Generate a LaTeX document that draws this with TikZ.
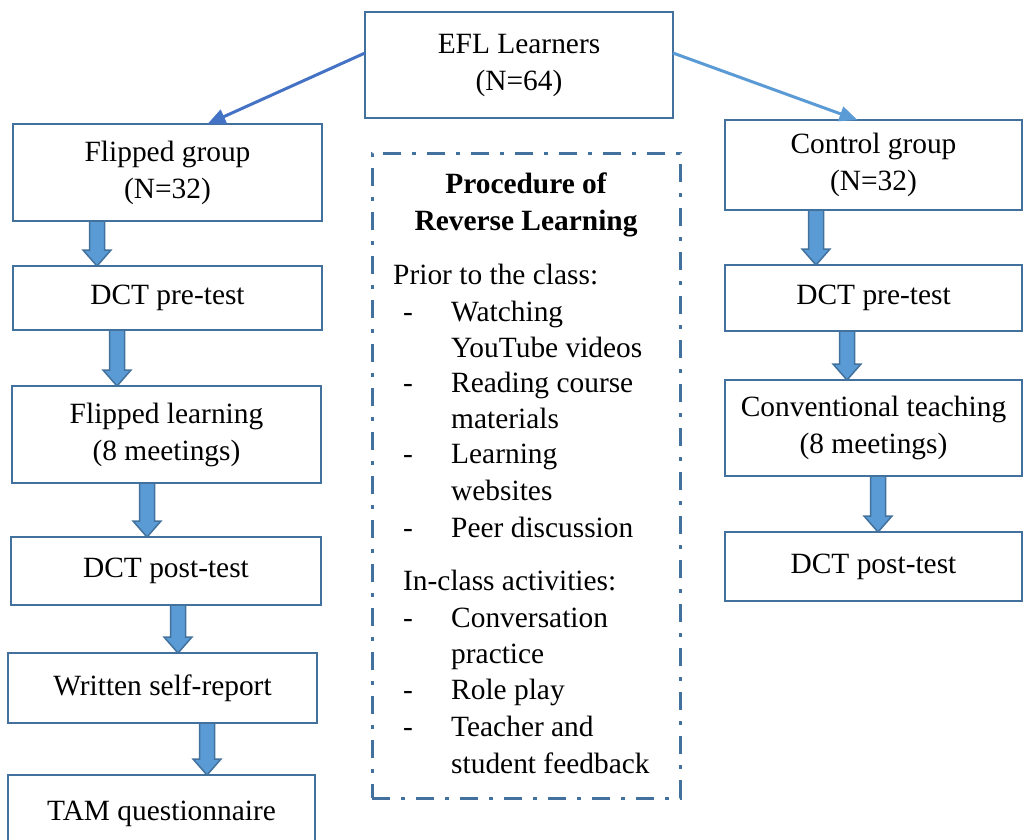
\documentclass[tikz,border=0pt]{standalone}
\usepackage{fontspec}
\setmainfont{Liberation Serif}
\newfontfamily\tnr{Liberation Serif}
\usetikzlibrary{arrows.meta,calc}

\definecolor{boxline}{HTML}{41719C}
\definecolor{flowfill}{HTML}{5B9BD5}
\definecolor{splitleft}{HTML}{4472C4}
\definecolor{splitright}{HTML}{5B9BD5}

% stage box: name, x1, y1, x2, y2, text
\newcommand\stagebox[6]{%
  \node[stage, minimum width={#4-#2}, minimum height={#5-#3}] (#1)
    at ({(#2+#4)/2},{(#3+#5)/2}) {#6};}

% block arrow pointing down: x position, upper node, lower node
\newcommand\flowarrow[3]{%
  \filldraw[flow] let \p1=(#2.south), \p2=(#3.north) in
    (#1pt-7.5pt,\y1) -- (#1pt+7.5pt,\y1) -- (#1pt+7.5pt,\y2+16pt)
    -- (#1pt+14pt,\y2+16pt) -- (#1pt,\y2) -- (#1pt-14pt,\y2+16pt)
    -- (#1pt-7.5pt,\y2+16pt) -- cycle;}

\begin{document}
\begin{tikzpicture}[x=1pt,y=-1pt,
  stage/.style={draw=boxline, line width=2pt, inner sep=0pt, outer sep=0pt,
    align=center, font=\tnr\fontsize{29.4}{37}\selectfont},
  flow/.style={fill=flowfill, draw=boxline, line width=1.5pt, line join=miter},
  txt/.style={anchor=base west, inner sep=0pt, font=\tnr\fontsize{29.4}{37}\selectfont},
  head/.style={anchor=base, inner sep=0pt, font=\tnr\fontsize{29.4}{37}\selectfont\bfseries},
  procframe/.style={draw=boxline, line width=3pt,
    dash pattern=on 18pt off 11pt on 4pt off 11pt, inner sep=0pt},
  split/.style={line width=3pt, -{Triangle[length=18pt,width=15pt]}}]

\useasboundingbox (0,0) rectangle (1024,839);

% top node
\stagebox{efl}{365}{12}{673}{118}{EFL Learners\\(N=64)}

% flipped group column
\stagebox{fg}{13}{124}{322}{221}{Flipped group\\(N=32)}
\stagebox{fpre}{13}{266}{322}{330}{DCT pre-test}
\stagebox{flearn}{12}{386}{321}{483}{Flipped learning\\(8 meetings)}
\stagebox{fpost}{11}{537}{321}{605}{DCT post-test}
\stagebox{fself}{8}{653}{317}{723}{Written self-report}
\stagebox{ftam}{8}{775}{315}{852}{TAM questionnaire}

% control group column
\stagebox{cg}{725}{120}{1022}{210}{Control group\\(N=32)}
\stagebox{cpre}{725}{265}{1022}{331}{DCT pre-test}
\stagebox{cteach}{725}{380}{1022}{476}{Conventional teaching\\(8 meetings)}
\stagebox{cpost}{725}{532}{1022}{601}{DCT post-test}

% split arrows from the top node
\draw[split, splitleft] ([yshift=12pt]efl.west) -- ([xshift=40pt]fg.north);
\draw[split, splitright] ([yshift=12pt]efl.east) -- ([xshift=-16pt]cg.north);

% block arrows
\flowarrow{97}{fg}{fpre}
\flowarrow{117}{fpre}{flearn}
\flowarrow{147}{flearn}{fpost}
\flowarrow{178}{fpost}{fself}
\flowarrow{207}{fself}{ftam}
\flowarrow{816}{cg}{cpre}
\flowarrow{847}{cpre}{cteach}
\flowarrow{878}{cteach}{cpost}

% procedure frame and its contents
\node[procframe, minimum width=308, minimum height=645] (proc) at (526,475.5) {};
\node[head] (h1) at (526,193) {Procedure of};
\node[head] (h2) at (526,230) {Reverse Learning};
\node[txt] (prior) at (393,284) {Prior to the class:};
\node[txt] (inclass) at (403,590) {In-class activities:};
\foreach \n/\y in {a/321, b/392, c/463, d/537, e/627, f/699, g/736}
  \node[txt] (dash\n) at (403,\y) {-};
\foreach \n/\y/\t in {1/321/Watching, 2/357/YouTube videos, 3/392/Reading course,
    4/428/materials, 5/463/Learning, 6/500/websites, 7/537/Peer discussion,
    8/627/Conversation, 9/663/practice, 10/699/Role play, 11/736/Teacher and,
    12/773/student feedback}
  \node[txt] (item\n) at (451,\y) {\t};

\end{tikzpicture}
\end{document}
